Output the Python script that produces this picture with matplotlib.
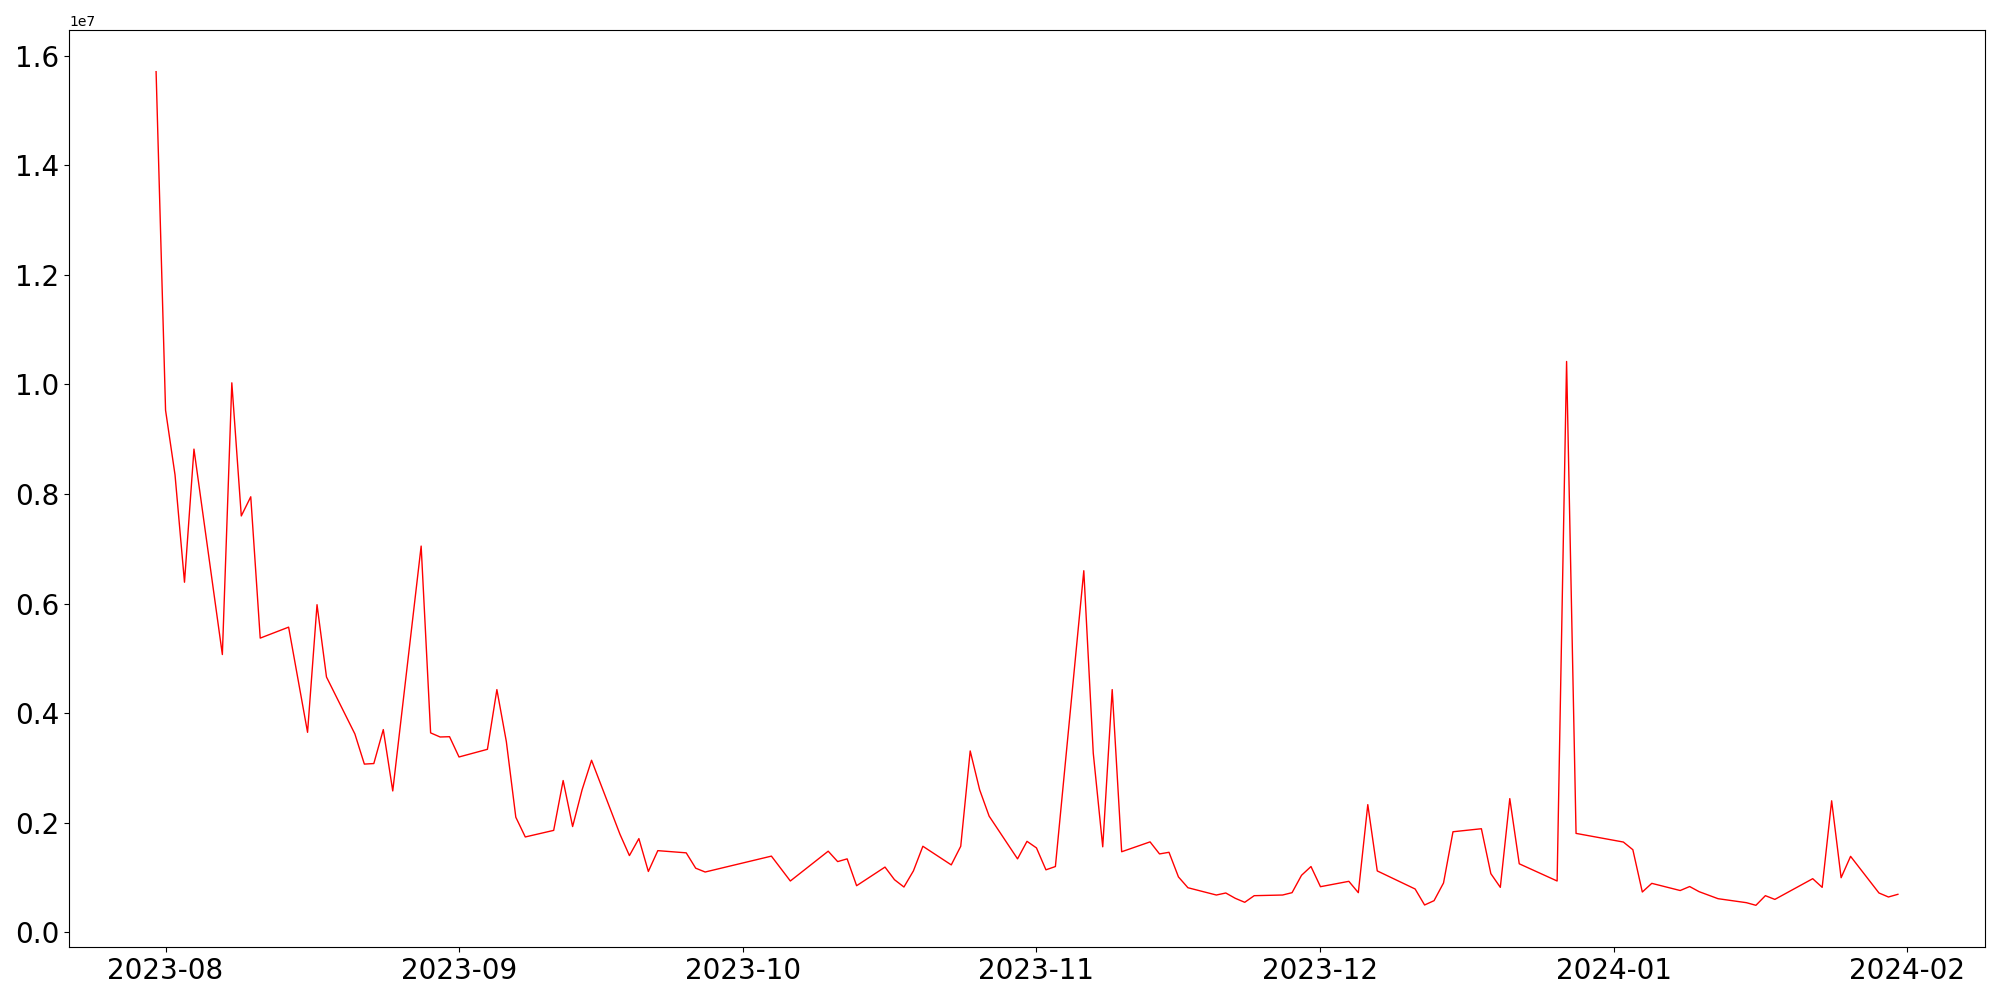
import matplotlib
matplotlib.use("Agg")
import matplotlib.pyplot as plt
import pandas as pd

dates = [
    "2023-07-31", "2023-08-01", "2023-08-02", "2023-08-03", "2023-08-04",
    "2023-08-07", "2023-08-08", "2023-08-09", "2023-08-10", "2023-08-11",
    "2023-08-14", "2023-08-16", "2023-08-17", "2023-08-18",
    "2023-08-21", "2023-08-22", "2023-08-23", "2023-08-24", "2023-08-25",
    "2023-08-28", "2023-08-29", "2023-08-30", "2023-08-31", "2023-09-01",
    "2023-09-04", "2023-09-05", "2023-09-06", "2023-09-07", "2023-09-08",
    "2023-09-11", "2023-09-12", "2023-09-13", "2023-09-14", "2023-09-15",
    "2023-09-18", "2023-09-19", "2023-09-20", "2023-09-21", "2023-09-22",
    "2023-09-25", "2023-09-26", "2023-09-27",
    "2023-10-04", "2023-10-06",
    "2023-10-10", "2023-10-11", "2023-10-12", "2023-10-13",
    "2023-10-16", "2023-10-17", "2023-10-18", "2023-10-19", "2023-10-20",
    "2023-10-23", "2023-10-24", "2023-10-25", "2023-10-26", "2023-10-27",
    "2023-10-30", "2023-10-31", "2023-11-01", "2023-11-02", "2023-11-03",
    "2023-11-06", "2023-11-07", "2023-11-08", "2023-11-09", "2023-11-10",
    "2023-11-13", "2023-11-14", "2023-11-15", "2023-11-16", "2023-11-17",
    "2023-11-20", "2023-11-21", "2023-11-22", "2023-11-23", "2023-11-24",
    "2023-11-27", "2023-11-28", "2023-11-29", "2023-11-30", "2023-12-01",
    "2023-12-04", "2023-12-05", "2023-12-06", "2023-12-07",
    "2023-12-11", "2023-12-12", "2023-12-13", "2023-12-14", "2023-12-15",
    "2023-12-18", "2023-12-19", "2023-12-20", "2023-12-21", "2023-12-22",
    "2023-12-26", "2023-12-27", "2023-12-28",
    "2024-01-02", "2024-01-03", "2024-01-04", "2024-01-05",
    "2024-01-08", "2024-01-09", "2024-01-10", "2024-01-12",
    "2024-01-15", "2024-01-16", "2024-01-17", "2024-01-18",
    "2024-01-22", "2024-01-23", "2024-01-24", "2024-01-25", "2024-01-26",
    "2024-01-29", "2024-01-30", "2024-01-31",
]

values = [
    15.71, 9.53, 8.35, 6.39, 8.82,
    5.07, 10.03, 7.60, 7.95, 5.37,
    5.57, 3.65, 5.98, 4.66,
    3.62, 3.07, 3.08, 3.70, 2.58,
    7.05, 3.64, 3.565, 3.57, 3.20,
    3.34, 4.43, 3.48, 2.10, 1.74,
    1.86, 2.77, 1.93, 2.60, 3.14,
    1.79, 1.40, 1.71, 1.11, 1.49,
    1.45, 1.17, 1.10,
    1.39, 0.936,
    1.48, 1.29, 1.34, 0.85,
    1.19, 0.96, 0.826, 1.12, 1.57,
    1.23, 1.57, 3.31, 2.60, 2.12,
    1.34, 1.66, 1.54, 1.14, 1.20,
    6.60, 3.27, 1.56, 4.43, 1.47,
    1.65, 1.43, 1.46, 1.01, 0.813,
    0.68, 0.717, 0.62, 0.547, 0.668,
    0.68, 0.723, 1.04, 1.20, 0.832,
    0.93, 0.723, 2.33, 1.12,
    0.79, 0.498, 0.577, 0.90, 1.835,
    1.89, 1.07, 0.82, 2.44, 1.25,
    0.936, 10.42, 1.805,
    1.647, 1.507, 0.735, 0.893,
    0.762, 0.835, 0.741, 0.613,
    0.54, 0.492, 0.668, 0.60,
    0.978, 0.82, 2.40, 0.996, 1.386,
    0.717, 0.644, 0.693,
]

x = pd.to_datetime(dates)
y = [v * 1e6 for v in values]

fig = plt.figure(figsize=(20, 10), dpi=100)
ax = fig.add_axes([0.0345, 0.053, 0.958, 0.917])
ax.plot(x, y, color="red", linewidth=1.0)
plt.xticks(fontsize=20)
plt.yticks(fontsize=20)
fig.savefig("out.png", dpi=100)
